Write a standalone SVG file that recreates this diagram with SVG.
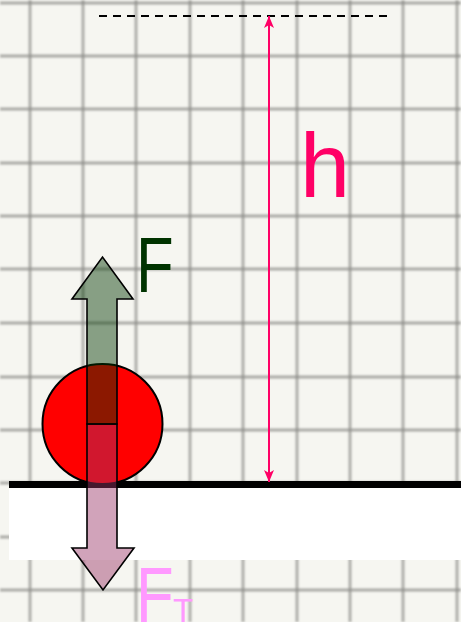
<svg xmlns="http://www.w3.org/2000/svg" width="461" height="622" viewBox="0 0 461 622">
  <defs>
    <filter id="soft" x="-5%" y="-5%" width="110%" height="110%">
      <feGaussianBlur stdDeviation="1.1"/>
    </filter>
    <marker id="hArrow" viewBox="0 0 12 10" refX="12" refY="5" markerWidth="12" markerHeight="10" markerUnits="userSpaceOnUse" orient="auto-start-reverse">
      <path d="M0,0 L12,5 L0,10 L3,5 Z" fill="#ff0066"/>
    </marker>
    <style>
      .grid line { stroke: #8a8a86; stroke-width: 2.8; stroke-opacity: 0.7; }
      .arrow { stroke: #000; stroke-width: 1.6; stroke-linejoin: miter; }
      .lbl { font-family: "Liberation Sans", Arial, sans-serif; }
    </style>
  </defs>

  <!-- paper -->
  <rect x="0" y="0" width="461" height="622" fill="#f6f6f1"/>
  <g class="grid" filter="url(#soft)">
    <line x1="30" y1="0" x2="30" y2="622"/>
    <line x1="83" y1="0" x2="83" y2="622"/>
    <line x1="136" y1="0" x2="136" y2="622"/>
    <line x1="190" y1="0" x2="190" y2="622"/>
    <line x1="243" y1="0" x2="243" y2="622"/>
    <line x1="297" y1="0" x2="297" y2="622"/>
    <line x1="350" y1="0" x2="350" y2="622"/>
    <line x1="403" y1="0" x2="403" y2="622"/>
    <line x1="457" y1="0" x2="457" y2="622"/>
    <line x1="0" y1="3" x2="461" y2="3"/>
    <line x1="0" y1="56" x2="461" y2="56"/>
    <line x1="0" y1="109" x2="461" y2="109"/>
    <line x1="0" y1="163" x2="461" y2="163"/>
    <line x1="0" y1="216" x2="461" y2="216"/>
    <line x1="0" y1="269" x2="461" y2="269"/>
    <line x1="0" y1="323" x2="461" y2="323"/>
    <line x1="0" y1="377" x2="461" y2="377"/>
    <line x1="0" y1="430" x2="461" y2="430"/>
    <line x1="0" y1="483" x2="461" y2="483"/>
    <line x1="0" y1="537" x2="461" y2="537"/>
    <line x1="0" y1="590" x2="461" y2="590"/>
  </g>

  <!-- ground -->
  <g id="ground">
    <rect x="9" y="487" width="452" height="73" fill="#ffffff"/>
    <line x1="9" y1="484.5" x2="461" y2="484.5" stroke="#000" stroke-width="7"/>
  </g>

  <!-- ball -->
  <g id="ball">
    <circle cx="102.5" cy="424" r="60" fill="#ff0000" stroke="#000" stroke-width="2"/>
  </g>

  <!-- gravity force arrow -->
  <g id="arrow-FT">
    <polygon class="arrow" points="87,424 117,424 117,548 134,548 103,590 72,548 87,548" fill="#993366" fill-opacity="0.45"/>
  </g>

  <!-- force F arrow -->
  <g id="arrow-F">
    <polygon class="arrow" points="87,424 87,299 72,299 102.5,257 133,299 117,299 117,424" fill="#003600" fill-opacity="0.45"/>
  </g>

  <!-- height marker -->
  <g id="connectors">
    <line x1="99" y1="16" x2="387" y2="16" stroke="#000" stroke-width="2" stroke-dasharray="8,6"/>
    <line x1="269" y1="16" x2="269" y2="482" stroke="#ff0066" stroke-width="2" marker-start="url(#hArrow)" marker-end="url(#hArrow)"/>
  </g>

  <!-- labels -->
  <g id="label-h">
    <text class="lbl" x="300" y="197" font-size="90" fill="#ff0066">h</text>
  </g>
  <g id="label-F">
    <text class="lbl" transform="translate(141,292) scale(0.8,1)" x="-6.3" y="0" font-size="77" fill="#003300">F</text>
  </g>
  <g id="label-FT">
    <text class="lbl" transform="translate(141,622) scale(0.8,1)" x="-6.3" y="0" font-size="77" fill="#ff99ff">F</text>
    <text class="lbl" x="173" y="622" font-size="33" fill="#ff99ff">T</text>
  </g>
</svg>
